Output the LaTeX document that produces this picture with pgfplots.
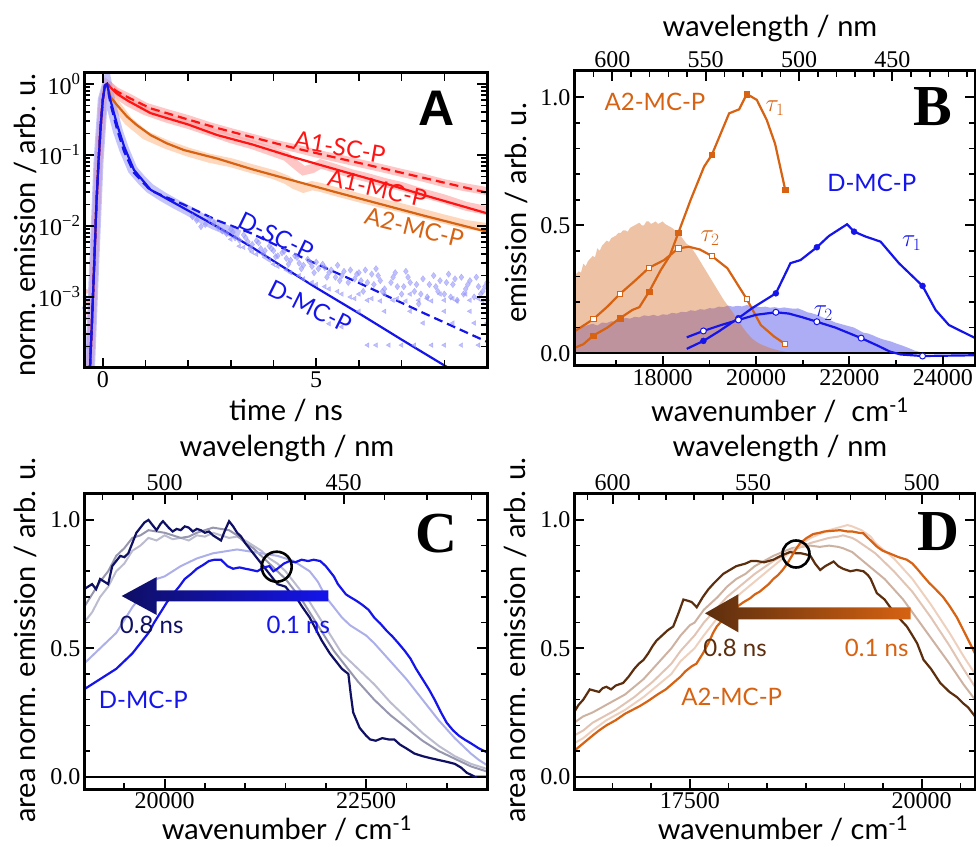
\documentclass[border=0pt]{standalone}
\usepackage{fontspec}
\setmainfont{Lato}
\newfontfamily\tickfont{Liberation Serif}
\newfontfamily\sansbold{Liberation Sans}
\usepackage{pgfplots}
\pgfplotsset{compat=1.18}
\definecolor{cred}{RGB}{255,20,20}
\definecolor{corange}{RGB}{214,98,18}
\definecolor{cblue}{RGB}{20,20,235}
\definecolor{lred}{RGB}{255,160,160}
\definecolor{lorange}{RGB}{255,198,160}
\definecolor{lblue}{RGB}{150,150,250}
\definecolor{cnavy}{RGB}{15,15,100}
\definecolor{cC2}{RGB}{172,175,232}
\definecolor{cC3}{RGB}{188,188,208}
\definecolor{cC4}{RGB}{150,150,175}
\definecolor{cbrown}{RGB}{92,46,14}
\definecolor{cD2}{RGB}{238,208,190}
\definecolor{cD3}{RGB}{225,196,180}
\definecolor{cD4}{RGB}{205,178,162}
\definecolor{fblue}{RGB}{60,60,230}
\definecolor{forange}{RGB}{215,112,40}
\newcommand\lab{\fontsize{29}{32}\selectfont}
\newcommand\cl{\fontsize{24}{26}\selectfont}
\pgfplotsset{
  panel/.style={scale only axis,
    axis line style={line width=3pt, black},
    scaled x ticks=false, scaled y ticks=false,
    tick align=inside, major tick length=10pt, minor tick length=6pt,
    major tick style={black, line width=2pt},
    minor tick style={black, line width=1.6pt},
    tick label style={font=\fontsize{24}{26}\selectfont\tickfont}},
  topax/.style={scale only axis, hide y axis, axis x line*=top, xtick align=inside,
    scaled x ticks=false, scaled y ticks=false,
    axis line style={line width=3pt, black},
    major tick length=10pt, minor tick length=6pt,
    major tick style={black, line width=2pt},
    minor tick style={black, line width=1.6pt},
    tick label style={font=\fontsize{24}{26}\selectfont\tickfont}, ymin=0, ymax=1},
  dsh/.style={dash pattern=on 9pt off 5pt},
}
\tikzset{tk/.style={black, line width=2pt}, tkm/.style={black, line width=1.6pt}}
\begin{document}
\begin{tikzpicture}
\useasboundingbox (0pt,0pt) rectangle (976pt,846pt);

%%%%%%%%%%%%%%%% PANEL A
\begin{axis}[panel, at={(84pt,478pt)}, anchor=south west, width=403pt, height=295pt,
  xmin=-0.44, xmax=9.0, ymode=log, ymin=1e-4, ymax=1.43,
  xtick={0,5}, xticklabels={0,5}, minor xtick={1,2,3,4,6,7,8},
  ytick={1,0.1,0.01,0.001},
  yticklabels={10\textsuperscript{0},10\textsuperscript{−1},10\textsuperscript{−2},10\textsuperscript{−3}},
  minor ytick={2e-4,3e-4,4e-4,5e-4,6e-4,7e-4,8e-4,9e-4,2e-3,3e-3,4e-3,5e-3,6e-3,7e-3,8e-3,9e-3,2e-2,3e-2,4e-2,5e-2,6e-2,7e-2,8e-2,9e-2,0.2,0.3,0.4,0.5,0.6,0.7,0.8,0.9}]
\addplot[lred, line width=8pt, opacity=0.6] coordinates {(-0.3,1e-4)(-0.2,3e-3)(-0.1,0.08)(0.0,0.6)(0.1,1) (0.3,0.8) (0.6,0.65) (1.0,0.48) (1.5,0.39) (2.0,0.32) (2.5,0.255) (3.0,0.21) (3.5,0.175) (4.0,0.145) (4.5,0.125) (5.0,0.105) (5.5,0.09) (6.0,0.077) (6.5,0.066) (7.0,0.056) (7.5,0.048) (8.0,0.04) (8.5,0.035) (9.0,0.031)};
\addplot[lred, line width=9pt, opacity=0.6] coordinates {(0.1,1) (0.3,0.74) (0.6,0.56) (1.0,0.42) (1.5,0.33) (2.0,0.27) (2.5,0.215) (3.0,0.17) (3.5,0.14) (4.0,0.11) (4.3,0.095) (4.5,0.075) (4.7,0.06) (4.9,0.064) (5.1,0.075) (5.4,0.066) (5.8,0.055) (6.2,0.048) (6.6,0.041) (7.0,0.036) (7.5,0.029) (8.0,0.024) (8.5,0.019) (9.0,0.0165)};
\addplot[lorange, line width=9pt, opacity=0.7] coordinates {(0.1,1) (0.3,0.52) (0.6,0.3) (1.0,0.19) (1.5,0.14) (2.0,0.11) (2.5,0.09) (3.0,0.078) (3.5,0.064) (4.0,0.053) (4.3,0.045) (4.5,0.038) (4.7,0.034) (4.9,0.037) (5.1,0.035) (5.5,0.03) (6.0,0.025) (6.5,0.021) (7.0,0.018) (7.5,0.015) (8.0,0.0125) (8.5,0.0105) (9.0,0.0095)};
\addplot[lblue, line width=10pt, opacity=0.55] coordinates {(-0.3,1e-4)(-0.2,3e-3)(-0.1,0.08)(0.0,0.6)(0.1,1) (0.2,0.5) (0.35,0.22) (0.5,0.12) (0.7,0.062) (0.9,0.045) (1.1,0.034) (1.4,0.026) (1.7,0.0205) (2.0,0.0165) (2.3,0.013) (2.6,0.0105) (2.9,0.0088) (3.2,0.0074)};
\addplot[only marks, mark=diamond*, mark size=3.2pt, lblue, opacity=0.6] coordinates {(2.6,0.011) (2.8,0.0085) (3.0,0.009) (3.1,0.0068) (3.3,0.0075) (3.4,0.006) (3.6,0.0062) (3.7,0.0048) (3.9,0.0052) (4.0,0.0045) (4.2,0.0042) (4.3,0.0035) (4.5,0.0038) (4.6,0.003) (4.8,0.0034) (4.9,0.0027) (5.0,0.0031) (5.2,0.0026) (5.3,0.0022) (5.5,0.0028) (5.6,0.002) (5.8,0.0024) (5.9,0.0018) (6.0,0.0022) (6.2,0.0016) (6.3,0.0021) (6.5,0.0017) (6.6,0.0013) (6.8,0.0019) (6.9,0.0014) (7.0,0.0011) (7.2,0.0016) (7.3,0.0012) (7.5,0.0018) (7.6,0.0010) (7.8,0.0014) (7.9,0.0017) (8.0,0.0011) (8.2,0.0015) (8.3,0.0009) (8.5,0.0013) (8.6,0.0017) (8.7,0.0010) (8.8,0.0014) (8.9,0.0012) (9.0,0.0016) (6.4,0.0025) (7.1,0.0023) (8.1,0.0021) (6.1,0.0012) (7.4,0.0008) (8.4,0.0019)
(2.7,0.0095)(2.9,0.0078)(3.05,0.0082)(3.2,0.0063)(3.35,0.0068)(3.5,0.0055)(3.65,0.0058)(3.8,0.0045)(3.95,0.0048)(4.1,0.0038)(4.25,0.0044)(4.4,0.0033)(4.55,0.0036)(4.7,0.0028)(4.85,0.0031)(5.05,0.0025)(5.15,0.0029)(5.35,0.0024)(5.45,0.0019)(5.65,0.0023)(5.75,0.0016)(5.95,0.0021)(6.05,0.0017)(6.15,0.0024)(6.35,0.0015)(6.45,0.002)(6.55,0.0012)(6.75,0.0016)(6.85,0.0022)(7.05,0.0014)(7.15,0.0019)(7.35,0.0015)(7.45,0.0011)(7.65,0.0015)(7.75,0.0020)(7.85,0.0012)(8.05,0.0016)(8.15,0.0010)(8.25,0.0018)(8.45,0.0011)(8.55,0.0015)(8.75,0.0019)(8.85,0.0011)(8.95,0.0014)(9.0,0.0009)
(2.2,0.012)(2.4,0.0105)(2.5,0.0125)(2.3,0.0098)(2.1,0.0135)(3.45,0.0048)(3.75,0.0041)(4.05,0.0037)(4.35,0.0029)(4.65,0.0025)(4.95,0.0022)(5.25,0.0019)(5.55,0.0017)};
\addplot[only marks, mark=triangle*, mark size=2.7pt, lblue, opacity=0.6, every mark/.append style={rotate=90}] coordinates {(3.0,0.0065) (3.3,0.005) (3.6,0.004) (3.9,0.0033) (4.1,0.0027) (4.4,0.0022) (4.7,0.0018) (5.0,0.0015) (5.3,0.0013) (5.6,0.0011) (5.9,0.00095) (6.2,0.0009) (6.5,0.00088) (6.8,0.0009) (7.1,0.00088) (7.4,0.0009) (7.7,0.00088) (8.0,0.0009) (8.3,0.00088) (8.6,0.0009) (8.9,0.00088) (6.2,2.1e-4) (6.4,2.1e-4) (6.7,2.1e-4) (7.0,2.1e-4) (7.3,2.1e-4) (7.7,2.1e-4) (8.0,2.1e-4) (8.4,2.1e-4) (8.8,2.1e-4) (7.5,4.3e-4) (8.2,4.3e-4) (8.7,4.3e-4) (9.0,4.3e-4) (5.3,4.2e-4) (5.6,3.8e-4)
(4.0,0.0029)(4.3,0.0024)(4.6,0.0020)(4.9,0.0016)(5.2,0.0014)(5.5,0.0012)(5.8,0.001)(6.0,0.0011)(6.3,0.00095)(6.6,0.0011)(6.9,0.00095)(7.2,0.0011)(7.6,0.00095)(7.9,0.0011)(8.2,0.00095)(8.5,0.0011)(8.8,0.00095)(6.0,6.3e-4)(6.6,6.3e-4)(7.2,6.3e-4)(8.0,6.3e-4)(8.6,6.3e-4)(3.2,0.0052)(3.5,0.0043)(3.8,0.0036)};
\addplot[only marks, mark=*, mark size=2pt, lred, opacity=0.6] coordinates {(-0.42,1e-3) (-0.40,6e-4) (-0.38,1.2e-3) (-0.42,3e-4) (-0.36,8e-4)};
\addplot[only marks, mark=*, mark size=2pt, lblue, opacity=0.6] coordinates {(-0.41,5e-4) (-0.39,9e-4) (-0.37,2e-4) (-0.43,7e-4)};
\addplot[cred, line width=2.2pt, dsh] coordinates {(-0.30,1e-4) (-0.25,5e-4) (-0.20,3e-3) (-0.15,0.02) (-0.10,0.08) (-0.05,0.25) (0.0,0.6) (0.05,0.95) (0.1,1.0) (0.34,0.78) (0.6,0.646) (1.12,0.454) (1.5,0.389) (2.0,0.316) (2.68,0.240) (3.5,0.178) (4.4,0.129) (5.5,0.0906) (6.5,0.0661) (7.5,0.0479) (9.0,0.0295)};
\addplot[cred, line width=2.2pt] coordinates {(-0.30,1e-4) (-0.25,5e-4) (-0.20,3e-3) (-0.15,0.02) (-0.10,0.08) (-0.05,0.25) (0.0,0.6) (0.05,0.95) (0.1,1.0) (0.34,0.724) (0.6,0.575) (1.12,0.389) (1.5,0.331) (2.0,0.269) (2.68,0.191) (3.5,0.141) (4.4,0.0955) (5.5,0.0617) (6.5,0.0417) (7.5,0.0275) (9.0,0.0151)};
\addplot[corange, line width=2.2pt] coordinates {(-0.30,1e-4) (-0.25,5e-4) (-0.20,3e-3) (-0.15,0.02) (-0.10,0.08) (-0.05,0.25) (0.0,0.6) (0.05,0.95) (0.1,1.0) (0.18,0.66) (0.34,0.50) (0.57,0.347) (0.8,0.263) (1.12,0.191) (1.5,0.146) (1.9,0.1175) (2.68,0.0891) (3.5,0.063) (4.4,0.0447) (5.5,0.0295) (6.5,0.0204) (7.5,0.0141) (9.0,0.0083)};
\addplot[cblue, line width=2.2pt] coordinates {(-0.30,1e-4) (-0.25,5e-4) (-0.20,3e-3) (-0.15,0.02) (-0.10,0.08) (-0.05,0.25) (0.0,0.6) (0.05,0.95) (0.1,1.0) (0.18,0.589) (0.34,0.263) (0.5,0.132) (0.73,0.0617) (1.12,0.0324) (1.9,0.0178) (2.68,0.00977) (3.47,0.00513) (4.15,0.00282) (5.0,0.00135) (6.0,5.89e-4) (7.0,2.51e-4) (8.1,1e-4) (8.4,7.8e-5)};
\addplot[cblue, line width=2.2pt, dsh] coordinates {(-0.30,1e-4) (-0.25,5e-4) (-0.20,3e-3) (-0.15,0.02) (-0.10,0.08) (-0.05,0.25) (0.0,0.6) (0.05,0.95) (0.1,1.0) (0.18,0.525) (0.34,0.224) (0.5,0.112) (0.73,0.0562) (1.12,0.0316) (1.9,0.02) (2.68,0.012) (3.47,0.00794) (4.62,0.00372) (6.0,0.00158) (7.5,6.0e-4) (9.0,2.34e-4)};
\end{axis}

%%%%%%%%%%%%%%%% PANEL B
\begin{axis}[panel, at={(574pt,480pt)}, anchor=south west, width=401pt, height=295pt,
  xmin=16100, xmax=24690, ymin=-0.05, ymax=1.103, xtick pos=left,
  xtick={18000,20000,22000,24000}, xticklabels={18000,20000,22000,24000},
  minor xtick={17000,19000,21000,23000},
  ytick={0,0.5,1}, yticklabels={0.0,0.5,1.0},
  minor ytick={0.1,0.2,0.3,0.4,0.6,0.7,0.8,0.9}]
\addplot[fill=fblue, fill opacity=0.42, draw=none] coordinates {(16100,0.10) (16200,0.095) (16300,0.105) (16400,0.11) (16500,0.115) (16600,0.108) (16700,0.12) (16800,0.118) (16900,0.125) (17000,0.122) (17100,0.13) (17200,0.138) (17300,0.135) (17400,0.142) (17500,0.14) (17600,0.148) (17700,0.145) (17800,0.15) (17900,0.145) (18000,0.152) (18100,0.15) (18200,0.158) (18300,0.155) (18400,0.162) (18500,0.16) (18600,0.168) (18700,0.165) (18800,0.172) (18900,0.17) (19000,0.176) (19100,0.175) (19200,0.182) (19300,0.18) (19400,0.186) (19500,0.182) (19600,0.185) (19700,0.183) (19800,0.188) (19900,0.185) (20000,0.183) (20100,0.18) (20200,0.182) (20300,0.178) (20400,0.18) (20500,0.176) (20600,0.179) (20700,0.176) (20800,0.174) (20900,0.175) (21000,0.168) (21100,0.16) (21200,0.156) (21300,0.15) (21400,0.142) (21500,0.135) (21600,0.128) (21700,0.12) (21800,0.115) (21900,0.11) (22000,0.105) (22100,0.10) (22200,0.09) (22300,0.08) (22400,0.077) (22500,0.07) (22600,0.062) (22700,0.055) (22800,0.05) (22900,0.045) (23000,0.038) (23100,0.032) (23200,0.025) (23300,0.018) (23400,0.01) (23500,0.005) (23700,0.0)} \closedcycle;
\addplot[fill=forange, fill opacity=0.42, draw=none] coordinates {(16100,0.30) (16150,0.31) (16200,0.32) (16250,0.315) (16300,0.35) (16350,0.34) (16400,0.36) (16450,0.37) (16500,0.38) (16550,0.375) (16600,0.41) (16650,0.40) (16700,0.42) (16750,0.43) (16800,0.44) (16850,0.435) (16900,0.45) (16950,0.455) (17000,0.46) (17050,0.47) (17100,0.47) (17150,0.48) (17200,0.48) (17250,0.475) (17300,0.49) (17350,0.495) (17400,0.50) (17450,0.505) (17500,0.51) (17550,0.50) (17600,0.50) (17650,0.515) (17700,0.515) (17750,0.505) (17800,0.51) (17850,0.515) (17900,0.505) (17950,0.51) (18000,0.515) (18050,0.505) (18100,0.50) (18200,0.49) (18300,0.475) (18400,0.455) (18500,0.43) (18600,0.415) (18700,0.39) (18800,0.36) (18900,0.33) (19000,0.30) (19100,0.27) (19200,0.24) (19300,0.21) (19400,0.185) (19500,0.16) (19600,0.13) (19700,0.105) (19800,0.08) (19900,0.06) (20000,0.045) (20100,0.035) (20300,0.02) (20500,0.01) (20800,0.0)} \closedcycle;
\addplot[black, line width=1.8pt] coordinates {(16100,0) (24690,0)};
\addplot[corange, line width=2.2pt] coordinates {(16100,0.02) (16300,0.035) (16514,0.069) (16814,0.10) (17086,0.137) (17350,0.169) (17500,0.18) (17708,0.24) (17958,0.325) (18150,0.38) (18336,0.471) (18600,0.60) (18886,0.729) (19052,0.775) (19423,0.9375) (19637,0.953) (19802,1.013) (20016,0.99) (20230,0.911) (20408,0.818) (20623,0.64)};
\addplot[only marks, mark=square*, mark size=2.7pt, corange] coordinates {(16514,0.069) (17086,0.137) (17708,0.24) (18336,0.471) (19052,0.775) (19802,1.013) (20623,0.64)};
\addplot[corange, line width=2.2pt] coordinates {(16100,0.084) (16514,0.133) (16814,0.182) (17086,0.232) (17386,0.28) (17708,0.334) (18029,0.364) (18336,0.41) (18565,0.416) (18800,0.405) (19052,0.38) (19386,0.332) (19802,0.211) (20102,0.11) (20387,0.065) (20623,0.036)};
\addplot[only marks, mark=square*, mark size=2.7pt, draw=corange, fill=white, line width=1pt] coordinates {(16514,0.133) (17086,0.232) (17708,0.334) (18336,0.41) (19052,0.38) (19802,0.211) (20623,0.036)};
\addplot[cblue, line width=2.2pt] coordinates {(18515,0.017) (18872,0.048) (19200,0.085) (19622,0.137) (19916,0.176) (20424,0.234) (20737,0.352) (20952,0.364) (21302,0.414) (21559,0.458) (21950,0.504) (22100,0.475) (22345,0.456) (22667,0.436) (23059,0.352) (23566,0.263) (23845,0.169) (24131,0.11) (24696,0.059)};
\addplot[only marks, mark=*, mark size=3pt, cblue] coordinates {(18872,0.048) (19622,0.137) (20424,0.234) (21302,0.414) (22100,0.475) (23566,0.263) (24696,0.059)};
\addplot[cblue, line width=2.2pt] coordinates {(18515,0.062) (18872,0.087) (19250,0.11) (19622,0.13) (20000,0.15) (20424,0.16) (20700,0.155) (21000,0.14) (21302,0.123) (21700,0.1) (22251,0.059) (22600,0.03) (22872,0.006) (23100,-0.005) (23566,-0.011) (24696,-0.008)};
\addplot[only marks, mark=*, mark size=3pt, draw=cblue, fill=white, line width=1pt] coordinates {(18872,0.087) (19622,0.13) (20424,0.16) (21302,0.123) (22251,0.059) (23566,-0.011) (24696,-0.008)};
\end{axis}
\begin{axis}[topax, at={(574pt,480pt)}, anchor=south west, width=401pt, height=295pt,
  xmin=16100, xmax=24690,
  xtick={16921,18921,20921,22921}, xticklabels={600,550,500,450},
  minor xtick={16121,16521,17321,17721,18121,18521,19321,19721,20121,20521,21321,21721,22121,22521,23321,23721,24121,24521}]
\addplot[draw=none] coordinates {(17000,0.5)};
\end{axis}

%%%%%%%%%%%%%%%% PANEL C
\begin{axis}[panel, at={(84pt,57pt)}, anchor=south west, width=403pt, height=295pt,
  xmin=19000, xmax=24000, ymin=-0.048, ymax=1.101, xtick pos=left,
  xtick={20000,22500}, xticklabels={20000,22500},
  minor xtick={19500,20500,21000,21500,22000,23000,23500},
  ytick={0,0.5,1}, yticklabels={0.0,0.5,1.0},
  minor ytick={0.1,0.2,0.3,0.4,0.6,0.7,0.8,0.9}]
\addplot[black, line width=1.8pt] coordinates {(19000,0) (24000,0)};
\addplot[cC3, line width=2pt] coordinates {(19000,0.60) (19100,0.64) (19200,0.70) (19300,0.74) (19400,0.80) (19500,0.83) (19600,0.88) (19700,0.90) (19800,0.93) (19900,0.92) (20000,0.94) (20100,0.925) (20200,0.93) (20300,0.92) (20400,0.94) (20500,0.935) (20600,0.95) (20700,0.94) (20800,0.93) (20900,0.935) (21000,0.92) (21100,0.90) (21200,0.88) (21300,0.85) (21400,0.83) (21500,0.80) (21600,0.76) (21700,0.72) (21800,0.68) (21900,0.63) (22000,0.58) (22100,0.53) (22200,0.48) (22300,0.45) (22400,0.42) (22500,0.39) (22600,0.36) (22700,0.325) (22800,0.29) (22900,0.26) (23000,0.23) (23200,0.17) (23400,0.12) (23600,0.08) (23800,0.05) (24000,0.03)};
\addplot[cC4, line width=2pt] coordinates {(19000,0.66) (19100,0.71) (19200,0.76) (19300,0.80) (19400,0.86) (19500,0.89) (19600,0.93) (19700,0.94) (19800,0.96) (19900,0.955) (20000,0.95) (20100,0.94) (20200,0.93) (20300,0.935) (20400,0.95) (20500,0.96) (20600,0.97) (20700,0.965) (20800,0.96) (20900,0.94) (21000,0.91) (21100,0.89) (21200,0.86) (21300,0.83) (21400,0.80) (21500,0.77) (21600,0.73) (21700,0.69) (21800,0.64) (21900,0.59) (22000,0.54) (22100,0.49) (22200,0.45) (22300,0.41) (22400,0.37) (22500,0.335) (22600,0.30) (22700,0.27) (22800,0.24) (22900,0.215) (23000,0.19) (23200,0.14) (23400,0.10) (23600,0.07) (23800,0.04) (24000,0.02)};
\addplot[cC2, line width=2pt] coordinates {(19000,0.44) (19100,0.47) (19200,0.50) (19300,0.53) (19400,0.56) (19500,0.61) (19600,0.66) (19700,0.70) (19800,0.74) (19900,0.77) (20000,0.78) (20100,0.80) (20200,0.82) (20300,0.835) (20400,0.85) (20500,0.86) (20600,0.87) (20700,0.875) (20800,0.88) (20900,0.885) (21000,0.88) (21100,0.875) (21200,0.87) (21300,0.865) (21400,0.86) (21500,0.85) (21600,0.84) (21700,0.82) (21800,0.80) (21900,0.76) (22000,0.70) (22100,0.66) (22200,0.62) (22300,0.59) (22400,0.57) (22500,0.55) (22600,0.52) (22700,0.485) (22800,0.45) (22900,0.415) (23000,0.38) (23100,0.34) (23200,0.30) (23300,0.26) (23400,0.22) (23500,0.185) (23600,0.15) (23700,0.12) (23800,0.09) (23900,0.065) (24000,0.045)};
\addplot[cnavy, line width=2.2pt] coordinates {(19000,0.73) (19050,0.74) (19100,0.75) (19150,0.73) (19200,0.77) (19250,0.76) (19300,0.75) (19350,0.82) (19400,0.84) (19450,0.86) (19500,0.855) (19550,0.87) (19600,0.91) (19650,0.95) (19700,0.97) (19750,0.99) (19800,1.00) (19850,0.98) (19900,0.96) (19950,0.985) (19980,0.995) (20050,0.97) (20100,0.955) (20150,0.965) (20200,0.96) (20250,0.975) (20300,0.97) (20350,0.955) (20400,0.965) (20450,0.96) (20500,0.95) (20550,0.955) (20600,0.94) (20650,0.93) (20700,0.92) (20750,0.96) (20800,0.995) (20850,0.975) (20900,0.95) (20950,0.935) (21000,0.91) (21050,0.89) (21100,0.87) (21150,0.85) (21200,0.83) (21250,0.81) (21300,0.79) (21350,0.77) (21400,0.75) (21450,0.745) (21500,0.74) (21550,0.72) (21650,0.69) (21700,0.665) (21800,0.62) (21900,0.56) (21950,0.53) (22050,0.48) (22150,0.44) (22200,0.42) (22280,0.40) (22310,0.32) (22340,0.25) (22420,0.19) (22500,0.16) (22550,0.145) (22620,0.14) (22700,0.15) (22780,0.145) (22850,0.145) (22920,0.125) (23000,0.11) (23100,0.09) (23200,0.08) (23300,0.072) (23400,0.065) (23500,0.058) (23600,0.05) (23680,0.035) (23750,0.015) (23850,0.0) (24000,0.0)};
\addplot[cblue, line width=2.2pt] coordinates {(19000,0.34) (19100,0.36) (19200,0.38) (19300,0.40) (19400,0.42) (19500,0.45) (19600,0.48) (19700,0.52) (19800,0.56) (19870,0.60) (19950,0.64) (20030,0.68) (20100,0.71) (20180,0.74) (20250,0.77) (20330,0.79) (20400,0.81) (20480,0.825) (20550,0.84) (20620,0.845) (20700,0.845) (20780,0.82) (20850,0.81) (20930,0.815) (21000,0.81) (21080,0.805) (21150,0.80) (21230,0.815) (21300,0.82) (21350,0.80) (21400,0.81) (21480,0.83) (21550,0.84) (21620,0.835) (21700,0.845) (21780,0.84) (21850,0.845) (21930,0.84) (22000,0.82) (22050,0.80) (22100,0.78) (22150,0.75) (22200,0.73) (22250,0.71) (22300,0.70) (22380,0.685) (22450,0.67) (22530,0.65) (22600,0.62) (22680,0.595) (22750,0.57) (22830,0.545) (22900,0.52) (22980,0.49) (23050,0.46) (23120,0.42) (23200,0.38) (23280,0.34) (23350,0.30) (23430,0.25) (23500,0.21) (23580,0.18) (23650,0.16) (23720,0.145) (23800,0.13) (23900,0.11) (24000,0.095)};
\end{axis}
\begin{axis}[topax, at={(84pt,57pt)}, anchor=south west, width=403pt, height=295pt,
  xmin=19000, xmax=24000,
  xtick={20000,22222.2}, xticklabels={500,450},
  minor xtick={19230.8,19607.8,20408.2,20833.3,21276.6,21739.1,22727.3,23255.8,23809.5}]
\addplot[draw=none] coordinates {(20000,0.5)};
\end{axis}

%%%%%%%%%%%%%%%% PANEL D
\begin{axis}[panel, at={(574pt,57pt)}, anchor=south west, width=401pt, height=295pt,
  xmin=16250, xmax=20575, ymin=-0.048, ymax=1.101, xtick pos=left,
  xtick={17500,20000}, xticklabels={17500,20000},
  minor xtick={16666.7,17083.3,17916.7,18333.3,18750,19166.7,19583.3,20416.7},
  ytick={0,0.5,1}, yticklabels={0.0,0.5,1.0},
  minor ytick={0.1,0.2,0.3,0.4,0.6,0.7,0.8,0.9}]
\addplot[black, line width=1.8pt] coordinates {(16250,0) (20575,0)};
\addplot[cD4, line width=2pt] coordinates {(16250,0.21) (16350,0.235) (16450,0.25) (16600,0.28) (16700,0.30) (16800,0.32) (16900,0.35) (17000,0.38) (17100,0.42) (17200,0.46) (17300,0.50) (17400,0.55) (17500,0.59) (17550,0.60) (17650,0.65) (17800,0.70) (17900,0.74) (18000,0.77) (18100,0.79) (18200,0.82) (18300,0.84) (18400,0.86) (18500,0.875) (18600,0.89) (18700,0.895) (18800,0.90) (18900,0.895) (19000,0.90) (19100,0.895) (19150,0.89) (19250,0.875) (19300,0.86) (19400,0.83) (19500,0.80) (19600,0.77) (19700,0.73) (19800,0.69) (19900,0.64) (20000,0.59) (20100,0.54) (20200,0.49) (20300,0.44) (20450,0.36) (20575,0.30)};
\addplot[cD3, line width=2pt] coordinates {(16250,0.16) (16350,0.18) (16450,0.21) (16600,0.24) (16700,0.26) (16800,0.285) (16900,0.31) (17000,0.34) (17100,0.37) (17200,0.405) (17300,0.44) (17400,0.49) (17500,0.53) (17550,0.55) (17650,0.60) (17800,0.66) (17900,0.70) (18000,0.73) (18100,0.76) (18200,0.79) (18300,0.815) (18400,0.84) (18500,0.86) (18600,0.88) (18700,0.895) (18800,0.91) (18900,0.92) (19000,0.93) (19100,0.935) (19150,0.94) (19250,0.93) (19300,0.92) (19400,0.895) (19500,0.87) (19600,0.835) (19700,0.80) (19800,0.76) (19900,0.72) (20000,0.67) (20100,0.62) (20200,0.565) (20300,0.51) (20450,0.42) (20575,0.35)};
\addplot[cD2, line width=2pt] coordinates {(16250,0.13) (16350,0.15) (16450,0.18) (16600,0.22) (16700,0.24) (16800,0.26) (16900,0.285) (17000,0.31) (17100,0.34) (17200,0.37) (17300,0.40) (17400,0.45) (17550,0.50) (17650,0.55) (17800,0.62) (17900,0.66) (18000,0.70) (18100,0.73) (18200,0.76) (18300,0.79) (18400,0.82) (18500,0.85) (18600,0.88) (18700,0.905) (18800,0.93) (18900,0.945) (19000,0.96) (19100,0.97) (19200,0.98) (19250,0.975) (19350,0.96) (19450,0.935) (19500,0.91) (19600,0.88) (19700,0.85) (19800,0.81) (19900,0.77) (20000,0.72) (20100,0.67) (20200,0.615) (20300,0.56) (20450,0.47) (20575,0.40)};
\addplot[cbrown, line width=2.2pt] coordinates {(16250,0.25) (16300,0.28) (16350,0.30) (16420,0.34) (16470,0.335) (16520,0.33) (16560,0.345) (16600,0.35) (16650,0.34) (16700,0.355) (16780,0.365) (16840,0.39) (16900,0.42) (16950,0.44) (17000,0.455) (17050,0.48) (17100,0.51) (17140,0.53) (17200,0.55) (17260,0.57) (17320,0.585) (17380,0.64) (17430,0.69) (17480,0.685) (17520,0.68) (17574,0.66) (17640,0.70) (17700,0.73) (17750,0.75) (17790,0.765) (17860,0.79) (17930,0.805) (18000,0.82) (18100,0.83) (18160,0.84) (18220,0.84) (18300,0.835) (18400,0.845) (18480,0.86) (18580,0.875) (18640,0.87) (18700,0.87) (18760,0.865) (18800,0.86) (18850,0.83) (18905,0.805) (18960,0.82) (19050,0.838) (19100,0.82) (19150,0.81) (19230,0.80) (19300,0.805) (19372,0.80) (19420,0.785) (19450,0.77) (19516,0.715) (19600,0.69) (19660,0.66) (19750,0.62) (19840,0.585) (19900,0.55) (19950,0.52) (20020,0.455) (20100,0.42) (20200,0.365) (20300,0.33) (20380,0.31) (20450,0.285) (20500,0.27) (20575,0.235)};
\addplot[corange, line width=2.2pt] coordinates {(16250,0.10) (16350,0.13) (16450,0.16) (16520,0.18) (16600,0.20) (16700,0.22) (16800,0.245) (16880,0.26) (16960,0.275) (17050,0.295) (17150,0.32) (17240,0.34) (17320,0.365) (17400,0.39) (17450,0.41) (17520,0.43) (17570,0.44) (17640,0.48) (17700,0.52) (17750,0.56) (17790,0.585) (17850,0.61) (17900,0.63) (17950,0.645) (18000,0.66) (18080,0.68) (18150,0.695) (18200,0.71) (18250,0.72) (18300,0.735) (18350,0.75) (18400,0.77) (18450,0.785) (18500,0.805) (18550,0.83) (18600,0.86) (18650,0.89) (18690,0.91) (18760,0.93) (18830,0.945) (18900,0.95) (18950,0.955) (19050,0.958) (19120,0.96) (19200,0.955) (19250,0.955) (19320,0.95) (19370,0.948) (19420,0.93) (19450,0.92) (19520,0.895) (19580,0.88) (19650,0.87) (19750,0.855) (19840,0.845) (19900,0.83) (19950,0.81) (20020,0.78) (20080,0.755) (20150,0.73) (20230,0.70) (20300,0.665) (20380,0.62) (20450,0.57) (20520,0.52) (20575,0.48)};
\end{axis}
\begin{axis}[topax, at={(574pt,57pt)}, anchor=south west, width=401pt, height=295pt,
  xmin=16250, xmax=20575,
  xtick={16666.7,18181.8,20000}, xticklabels={600,550,500},
  minor xtick={16393.4,16949.2,17241.4,17543.9,17857.1,18518.5,18867.9,19230.8,19607.8,20408.2}]
\addplot[draw=none] coordinates {(18000,0.5)};
\end{axis}

\begin{scope}[x=1pt,y=1pt]
% ---- frames
\draw[black, line width=3pt] (84,478) rectangle (487,773);
\draw[black, line width=3pt] (574,480) rectangle (975,775);
\draw[black, line width=3pt] (84,57) rectangle (487,352);
\draw[black, line width=3pt] (574,57) rectangle (975,352);
% ---- tick marks, panel A
\foreach \t in {0,5} {\pgfmathsetmacro\xx{84+(\t+0.44)*42.69} \draw[tk] (\xx,478) -- ++(0,10); \draw[tk] (\xx,773) -- ++(0,-10);}
\foreach \t in {1,2,3,4,6,7,8} {\pgfmathsetmacro\xx{84+(\t+0.44)*42.69} \draw[tkm] (\xx,478) -- ++(0,8); \draw[tkm] (\xx,773) -- ++(0,-8);}
\foreach \d in {0,-1,-2,-3} {\pgfmathsetmacro\yy{478+(\d+4)*70.99} \draw[tk] (84,\yy) -- ++(10,0); \draw[tk] (487,\yy) -- ++(-10,0);}
\foreach \d in {-4,-3,-2,-1} {\foreach \k in {2,...,9} {\pgfmathsetmacro\yy{478+(\d+log10(\k)+4)*70.99} \draw[tkm] (84,\yy) -- ++(6,0); \draw[tkm] (487,\yy) -- ++(-6,0);}}
% ---- panel B
\foreach \w in {18,20,22,24} {\pgfmathsetmacro\xx{574+(\w-16.1)/8.59*401} \draw[tk] (\xx,480) -- ++(0,10);}
\foreach \w in {17,19,21,23} {\pgfmathsetmacro\xx{574+(\w-16.1)/8.59*401} \draw[tkm] (\xx,480) -- ++(0,6);}
\foreach \l in {600,550,500,450} {\pgfmathsetmacro\xx{574+(16.921+0.04*(600-\l)-16.1)/8.59*401} \draw[tk] (\xx,775) -- ++(0,-10);}
\foreach \l in {620,610,590,580,570,560,540,530,520,510,490,480,470,460,440,430,420,410} {\pgfmathsetmacro\xx{574+(16.921+0.04*(600-\l)-16.1)/8.59*401} \draw[tkm] (\xx,775) -- ++(0,-6);}
\foreach \v in {0,0.5,1} {\pgfmathsetmacro\yy{480+(\v+0.05)/1.153*295} \draw[tk] (574,\yy) -- ++(10,0); \draw[tk] (975,\yy) -- ++(-10,0);}
\foreach \v in {0.1,0.2,0.3,0.4,0.6,0.7,0.8,0.9} {\pgfmathsetmacro\yy{480+(\v+0.05)/1.153*295} \draw[tkm] (574,\yy) -- ++(6,0); \draw[tkm] (975,\yy) -- ++(-6,0);}
% ---- panel C
\foreach \w in {20,22.5} {\pgfmathsetmacro\xx{84+(\w-19)/5*403} \draw[tk] (\xx,57) -- ++(0,10);}
\foreach \w in {19.5,20.5,21,21.5,22,23,23.5} {\pgfmathsetmacro\xx{84+(\w-19)/5*403} \draw[tkm] (\xx,57) -- ++(0,6);}
\foreach \l in {500,450} {\pgfmathsetmacro\xx{84+(10000/\l-19)/5*403} \draw[tk] (\xx,352) -- ++(0,-10);}
\foreach \l in {520,510,490,480,470,460,440,430,420} {\pgfmathsetmacro\xx{84+(10000/\l-19)/5*403} \draw[tkm] (\xx,352) -- ++(0,-6);}
\foreach \v in {0,0.5,1} {\pgfmathsetmacro\yy{57+(\v+0.048)/1.149*295} \draw[tk] (84,\yy) -- ++(10,0); \draw[tk] (487,\yy) -- ++(-10,0);}
\foreach \v in {0.1,0.2,0.3,0.4,0.6,0.7,0.8,0.9} {\pgfmathsetmacro\yy{57+(\v+0.048)/1.149*295} \draw[tkm] (84,\yy) -- ++(6,0); \draw[tkm] (487,\yy) -- ++(-6,0);}
% ---- panel D
\foreach \w in {17.5,20} {\pgfmathsetmacro\xx{574+(\w-16.25)/4.325*401} \draw[tk] (\xx,57) -- ++(0,10);}
\foreach \w in {16.6667,17.0833,17.9167,18.3333,18.75,19.1667,19.5833,20.4167} {\pgfmathsetmacro\xx{574+(\w-16.25)/4.325*401} \draw[tkm] (\xx,57) -- ++(0,6);}
\foreach \l in {600,550,500} {\pgfmathsetmacro\xx{574+(10000/\l-16.25)/4.325*401} \draw[tk] (\xx,352) -- ++(0,-10);}
\foreach \l in {610,590,580,570,560,540,530,520,510,490} {\pgfmathsetmacro\xx{574+(10000/\l-16.25)/4.325*401} \draw[tkm] (\xx,352) -- ++(0,-6);}
\foreach \v in {0,0.5,1} {\pgfmathsetmacro\yy{57+(\v+0.048)/1.149*295} \draw[tk] (574,\yy) -- ++(10,0); \draw[tk] (975,\yy) -- ++(-10,0);}
\foreach \v in {0.1,0.2,0.3,0.4,0.6,0.7,0.8,0.9} {\pgfmathsetmacro\yy{57+(\v+0.048)/1.149*295} \draw[tkm] (574,\yy) -- ++(6,0); \draw[tkm] (975,\yy) -- ++(-6,0);}
% ---- arrows and circles
\shade[left color=cnavy, right color=cblue] (328.3,255.5) -- (156.7,255.5) -- (156.7,269) -- (121.7,250) -- (156.7,231) -- (156.7,244.5) -- (328.3,244.5) -- cycle;
\shade[left color=cbrown, right color=corange] (910.7,238.7) -- (738.3,238.7) -- (738.3,251.7) -- (705,232.7) -- (738.3,213.7) -- (738.3,226.7) -- (910.7,226.7) -- cycle;
\draw[black, line width=2.6pt] (276.7,279.3) circle (15);
\draw[black, line width=2.6pt] (796,292) circle (13.5);
% ---- texts
\node[font=\fontsize{50}{50}\selectfont\sansbold\bfseries] at (436.7,737.7) {A};
\node[font=\fontsize{58}{58}\selectfont\tickfont\bfseries] at (933.3,739.3) {B};
\node[font=\fontsize{58}{58}\selectfont\tickfont\bfseries] at (436.7,312.7) {C};
\node[font=\fontsize{58}{58}\selectfont\tickfont\bfseries] at (938.3,314.3) {D};
\node[cred, font=\cl, rotate=-10, inner sep=0pt] at (340,698.7) {A1-SC-P};
\node[cred, font=\cl, rotate=-13, inner sep=0pt] at (377.3,657.7) {A1-MC-P};
\node[corange, font=\cl, rotate=-14, inner sep=0pt] at (414.3,618.3) {A2-MC-P};
\node[cblue, font=\cl, rotate=-26, inner sep=0pt] at (276,610) {D-SC-P};
\node[cblue, font=\cl, rotate=-26.5, inner sep=0pt] at (310,539.3) {D-MC-P};
\node[corange, font=\cl] at (655,744.3) {A2-MC-P};
\node[corange, font=\cl] at (775,737.7) {$\tau_1$};
\node[corange, font=\cl] at (710,607.7) {$\tau_2$};
\node[cblue, font=\cl] at (871.7,662.7) {D-MC-P};
\node[cblue, font=\cl] at (911.7,602.7) {$\tau_1$};
\node[cblue, font=\cl] at (823.3,532.7) {$\tau_2$};
\node[cnavy, font=\cl] at (151.7,221) {0.8 ns};
\node[cblue, font=\cl] at (298.3,221) {0.1 ns};
\node[cblue, font=\cl] at (143.3,146) {D-MC-P};
\node[cbrown, font=\cl] at (735,197.7) {0.8 ns};
\node[corange, font=\cl] at (876.7,197.7) {0.1 ns};
\node[corange, font=\cl] at (731.7,149.3) {A2-MC-P};
\node[font=\lab] at (286,436) {time / ns};
\node[font=\lab, rotate=90] at (25,621) {norm. emission / arb. u.};
\node[font=\lab] at (780,436) {wavenumber /\ \ cm\textsuperscript{-1}};
\node[font=\lab] at (770,818) {wavelength / nm};
\node[font=\lab, rotate=90] at (516.7,633) {emission / arb. u.};
\node[font=\lab] at (287,18) {wavenumber / cm\textsuperscript{-1}};
\node[font=\lab] at (287,398) {wavelength / nm};
\node[font=\lab, rotate=90] at (25,206) {area norm. emission / arb. u.};
\node[font=\lab] at (783,18) {wavenumber / cm\textsuperscript{-1}};
\node[font=\lab] at (780,398) {wavelength / nm};
\node[font=\lab, rotate=90] at (515,206) {area norm. emission / arb. u.};
\end{scope}
\end{tikzpicture}
\end{document}
